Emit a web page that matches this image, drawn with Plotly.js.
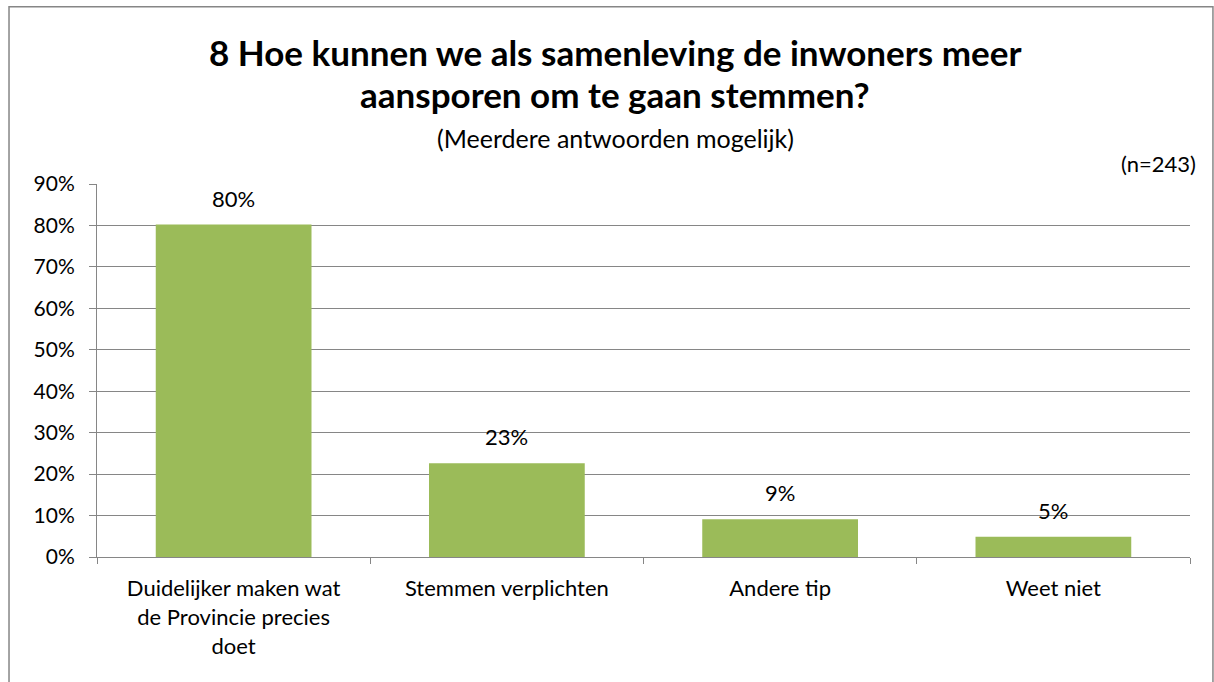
<!DOCTYPE html>
<html>
<head>
<meta charset="utf-8">
<script src="https://cdn.plot.ly/plotly-3.0.1.min.js"></script>
<style>
  html, body { margin: 0; padding: 0; background: #fff; }
  #chart { width: 1214px; height: 682px; }
</style>
</head>
<body>
<div id="chart"></div>
<script>
const categories = [
  "Duidelijker maken wat<br>de Provincie precies<br>doet",
  "Stemmen verplichten",
  "Andere tip",
  "Weet niet"
];
const values = [0.802, 0.226, 0.091, 0.049];
const valueLabels = ["80%", "23%", "9%", "5%"];

const barColor = "#9BBB59";
const gridColor = "#868686";
const font = "Lato, 'Open Sans', sans-serif";

const trace = {
  type: "bar",
  x: categories,
  y: values,
  marker: { color: barColor },
  hoverinfo: "skip"
};

// value labels above the bars
const labelNotes = categories.map((c, i) => ({
  x: c,
  y: values[i],
  xref: "x",
  yref: "y",
  text: valueLabels[i],
  showarrow: false,
  yanchor: "bottom",
  yshift: 11,
  font: { family: font, size: 22, color: "#000" }
}));

const layout = {
  width: 1214,
  height: 682,
  margin: { l: 97, r: 24, t: 184, b: 125 },
  paper_bgcolor: "#fff",
  plot_bgcolor: "#fff",
  font: { family: font, size: 22, color: "#000" },
  showlegend: false,
  bargap: 0.43,
  xaxis: {
    type: "category",
    showgrid: false,
    showline: true,
    linecolor: gridColor,
    linewidth: 1,
    ticks: "outside",
    tickson: "boundaries",
    ticklen: 6,
    tickcolor: gridColor,
    ticklabelstandoff: 12,
    tickfont: { family: font, size: 22, color: "#000" }
  },
  yaxis: {
    range: [0, 0.9],
    dtick: 0.1,
    tickformat: ".0%",
    showgrid: true,
    gridcolor: gridColor,
    gridwidth: 1,
    zeroline: false,
    showline: true,
    linecolor: gridColor,
    ticks: "outside",
    ticklen: 7,
    tickcolor: gridColor,
    ticklabelstandoff: 10,
    tickfont: { family: font, size: 21, color: "#000" }
  },
  annotations: [
    {
      text: "<b>8 Hoe kunnen we als samenleving de inwoners meer</b>",
      xref: "paper", yref: "paper", x: 0.474, y: 1.354,
      showarrow: false, xanchor: "center", yanchor: "middle",
      font: { family: font, size: 35, color: "#000" }
    },
    {
      text: "<b>aansporen om te gaan stemmen?</b>",
      xref: "paper", yref: "paper", x: 0.474, y: 1.241,
      showarrow: false, xanchor: "center", yanchor: "middle",
      font: { family: font, size: 35, color: "#000" }
    },
    {
      text: "(Meerdere antwoorden mogelijk)",
      xref: "paper", yref: "paper", x: 0.474, y: 1.123,
      showarrow: false, xanchor: "center", yanchor: "middle",
      font: { family: font, size: 25, color: "#000" }
    },
    {
      text: "(n=243)",
      xref: "paper", yref: "paper", x: 1.0073, y: 1.056,
      showarrow: false, xanchor: "right", yanchor: "middle",
      font: { family: font, size: 22, color: "#000" }
    }
  ].concat(labelNotes),
  shapes: [
    {
      type: "rect", xref: "paper", yref: "paper",
      x0: -0.0805, x1: 1.021, y0: -0.4, y1: 1.475,
      line: { color: gridColor, width: 1.5 },
      fillcolor: "rgba(0,0,0,0)"
    }
  ]
};

Plotly.newPlot("chart", [trace], layout, { displayModeBar: false, staticPlot: true });
</script>
</body>
</html>
